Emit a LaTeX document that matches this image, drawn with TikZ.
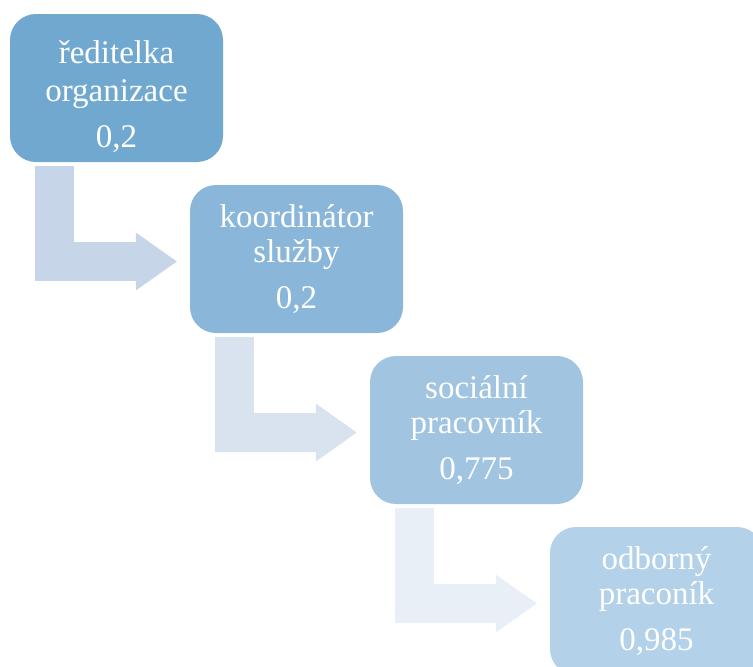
\documentclass[tikz,border=0pt]{standalone}
\usepackage{fontspec}
\setmainfont{Liberation Serif}
\usetikzlibrary{positioning,arrows.meta}
\definecolor{levelA}{RGB}{113,168,208}
\definecolor{levelB}{RGB}{138,182,217}
\definecolor{levelC}{RGB}{161,196,224}
\definecolor{levelD}{RGB}{179,209,232}
\definecolor{flowA}{RGB}{198,214,232}
\definecolor{flowB}{RGB}{217,227,239}
\definecolor{flowC}{RGB}{233,239,246}
\tikzset{level node/.style={rounded corners=26pt,minimum width=213pt,minimum height=148pt,inner sep=0pt,align=center,text=white,font=\fontsize{33}{35}\selectfont},
flow arrow/.style={line width=39pt,line join=miter,-{Triangle[length=41pt,width=58pt,line width=0pt]}} }

\begin{document}
\begin{tikzpicture}
\useasboundingbox (0,0) rectangle (753pt,-667pt);
\begin{scope}[on grid]

  \node[level node, fill=levelA] (b1) at (116.5pt,-88pt) {\rule{0pt}{40pt}ředitelka\\[3pt]organizace\\[11pt]0,2};
  \node[level node, fill=levelB] (b2) [below right =171pt and 180pt of b1] {koordinátor\\služby\\[11pt]0,2};
  \node[level node, fill=levelC] (b3) [below right =171pt and 180pt of b2] {sociální\\pracovník\\[11pt]0,775};
  \node[level node, fill=levelD] (b4) [below right =171pt and 180pt of b3] {odborný\\praconík\\[11pt]0,985};

  \draw[flow arrow, draw=flowA] ([xshift=44.5pt,yshift=-4pt]b1.south west) |- ([xshift=-13pt,yshift=-2.5pt]b2.west);
  \draw[flow arrow, draw=flowB] ([xshift=44.5pt,yshift=-4pt]b2.south west) |- ([xshift=-13pt,yshift=-2.5pt]b3.west);
  \draw[flow arrow, draw=flowC] ([xshift=44.5pt,yshift=-4pt]b3.south west) |- ([xshift=-13pt,yshift=-2.5pt]b4.west);

\end{scope}
\end{tikzpicture}
\end{document}
